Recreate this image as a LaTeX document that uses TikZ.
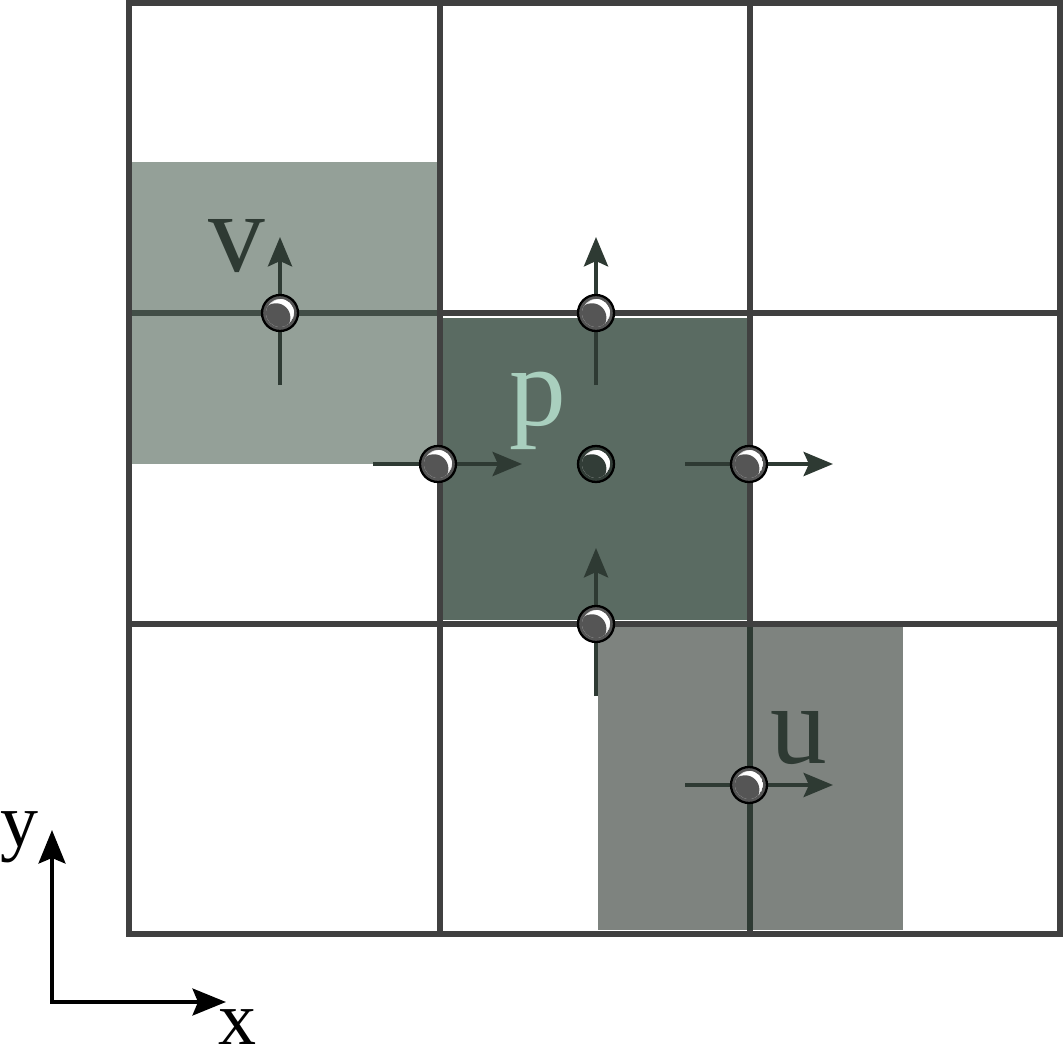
\documentclass[tikz,border=0pt]{standalone}
\usepackage{fontspec}
\setmainfont{Liberation Serif}
\usetikzlibrary{arrows.meta}
\definecolor{gridc}{HTML}{404040}
\definecolor{darkg}{HTML}{2E3A33}
\definecolor{vfill}{HTML}{94A098}
\definecolor{pfill}{HTML}{5A6B62}
\definecolor{ufill}{HTML}{7E837F}
\definecolor{plabel}{HTML}{A9CFBE}
\definecolor{ballc}{HTML}{555555}
\definecolor{ballp}{HTML}{323D37}
\tikzset{
  gridline/.style={draw=gridc, line width=4pt},
  innerline/.style={draw=darkg, line width=4pt},
  vec/.style={draw=darkg, line width=3.2pt, -{Stealth[length=22pt,width=18pt,inset=4pt]}},
  axis/.style={draw=black, line width=3.4pt, -{Stealth[length=25pt,width=20pt,inset=4pt]}},
  ball/.style={circle, draw=black, line width=1.7pt, fill=#1, minimum size=27pt, inner sep=0pt,
    path picture={
      \begin{scope}
        \clip (path picture bounding box.center) circle[radius=10.5pt];
        \fill[gray!25] (path picture bounding box.center) circle[radius=10.5pt];
        \fill[white] ([shift={(1pt,1pt)}]path picture bounding box.center) circle[radius=9.5pt];
        \fill[#1] ([shift={(-3pt,-3.5pt)}]path picture bounding box.center) circle[radius=10.8pt];
      \end{scope}
    }},
  biglabel/.style={font=\fontsize{85}{90}\selectfont, inner sep=0pt, anchor=base},
  axlabel/.style={font=\fontsize{57}{60}\selectfont, inner sep=0pt, anchor=base},
}
\begin{document}
\begin{tikzpicture}[x=0.75pt,y=-0.75pt]
\useasboundingbox (0,0) rectangle (1064,1052);
% shaded cells
\fill[vfill] (132,162) rectangle (437,464);
\fill[pfill] (441,318) rectangle (750,620);
\fill[ufill] (598,627) rectangle (903,930);
% grid
\foreach \x in {129,440,750,1060} \draw[gridline] (\x,3) -- (\x,934);
\foreach \y in {3,313,624,934} \draw[gridline] (129,\y) -- (1060,\y);
\draw[gridline, line cap=rect] (129,3) rectangle (1060,934);
% inner lines in shaded cells
\draw[draw=darkg!80!vfill, line width=4pt] (132,313) -- (437,313);
\draw[innerline] (750,627) -- (750,930);
% coordinates for vector ends
\coordinate (v0) at (280,385); \coordinate (v1) at (280,237);
\coordinate (n0) at (596,385); \coordinate (n1) at (596,237);
\coordinate (s0) at (596,696); \coordinate (s1) at (596,548);
\coordinate (w0) at (373,464); \coordinate (w1) at (522,464);
\coordinate (e0) at (685,464); \coordinate (e1) at (833,464);
\coordinate (u0) at (685,785); \coordinate (u1) at (833,785);
\draw[vec] (v0) -- (v1);
\draw[vec] (n0) -- (n1);
\draw[vec] (s0) -- (s1);
\draw[vec] (w0) -- (w1);
\draw[vec] (e0) -- (e1);
\draw[vec] (u0) -- (u1);
% balls
\node[ball=ballc] (bv) at (280,313) {};
\node[ball=ballc] (bn) at (596,313) {};
\node[ball=ballc] (bw) at (438,464) {};
\node[ball=ballp] (bp) at (596,464) {};
\node[ball=ballc] (be) at (749,464) {};
\node[ball=ballc] (bs) at (596,624) {};
\node[ball=ballc] (bu) at (749,785) {};
% labels
\node[biglabel, text=darkg] (lv) at (237,272) {v};
\node[biglabel, text=plabel] (lp) at (538,425) {p};
\node[biglabel, text=darkg] (lu) at (799,763) {u};
% axes
\coordinate (o) at (52,1002);
\coordinate (ay) at (52,830);
\coordinate (ax) at (226,1002);
\draw[axis] (o) -- (ay);
\draw[axis] (o) -- (ax);
\fill (49.7,1004.3) rectangle (54.3,999.7);
\node[axlabel] (ly) at (19,846) {y};
\node[axlabel] (lx) at (237,1044) {x};
\end{tikzpicture}
\end{document}
